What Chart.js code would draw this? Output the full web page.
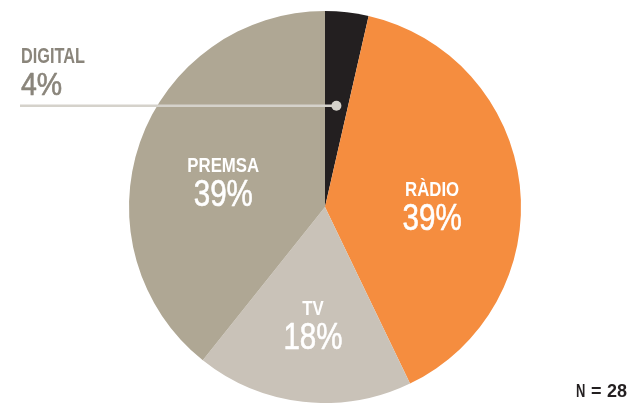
<!DOCTYPE html>
<html lang="ca">
<head>
  <meta charset="UTF-8">
  <title>Mitjans</title>
  <script src="https://cdn.jsdelivr.net/npm/chart.js"></script>
  <style>
    html, body { margin: 0; padding: 0; background: #fff; overflow: hidden; }
    #wrap { width: 634px; height: 403px; }
  </style>
</head>
<body>
<div id="wrap"><canvas id="pie" width="634" height="403"></canvas></div>
<script>
// data (N = 28 answers)
const labels = ['DIGITAL', 'RÀDIO', 'TV', 'PREMSA'];
const counts = [1, 11, 5, 11];
const pctText = ['4%', '39%', '18%', '39%'];
const sampleSize = 28;

const colors = ['#231f20', '#f58d3f', '#c9c2b8', '#afa794'];
const FONT = "'Liberation Sans', Arial, sans-serif";

// draw horizontally squeezed text (fake condensed face); heavy adds a thin stroke
function narrowText(ctx, text, x, y, font, align, squeeze, heavy) {
  ctx.save();
  ctx.font = font;
  ctx.textAlign = align;
  ctx.textBaseline = 'alphabetic';
  ctx.translate(x, y);
  ctx.scale(squeeze, 1);
  ctx.fillText(text, 0, 0);
  if (heavy) {
    ctx.strokeStyle = ctx.fillStyle;
    ctx.lineWidth = heavy;
    ctx.lineJoin = 'round';
    ctx.strokeText(text, 0, 0);
  }
  ctx.restore();
}

const sliceLabels = {
  id: 'sliceLabels',
  afterDatasetsDraw(chart) {
    const ctx = chart.ctx;
    const arcs = chart.getDatasetMeta(0).data;
    ctx.save();
    arcs.forEach((arc, i) => {
      const mid = (arc.startAngle + arc.endAngle) / 2;
      if (i === 0) {
        // callout for the small slice
        const r = arc.outerRadius * 0.52;
        const px = arc.x + Math.cos(mid) * r;
        const py = arc.y + Math.sin(mid) * r;
        ctx.strokeStyle = '#d5d2cb';
        ctx.lineWidth = 2.5;
        ctx.beginPath();
        ctx.moveTo(20, py);
        ctx.lineTo(px, py);
        ctx.stroke();
        ctx.fillStyle = '#d5d2cb';
        ctx.beginPath();
        ctx.arc(px, py, 5, 0, Math.PI * 2);
        ctx.fill();
        ctx.fillStyle = '#8a857b';
        narrowText(ctx, labels[i], 21, 63, 'bold 22px ' + FONT, 'left', 0.74);
        narrowText(ctx, pctText[i], 21, 95, '31px ' + FONT, 'left', 0.92, 0.6);
        return;
      }
      const r = arc.outerRadius * 0.55;
      const x = arc.x + Math.cos(mid) * r;
      const y = arc.y + Math.sin(mid) * r;
      ctx.fillStyle = '#ffffff';
      narrowText(ctx, labels[i], x, y + 1, 'bold 21px ' + FONT, 'center', 0.8);
      narrowText(ctx, pctText[i], x, y + 35, '36px ' + FONT, 'center', 0.82, 0.6);
    });
    // sample size note, bottom right
    ctx.fillStyle = '#231f20';
    const f = 'bold 18px ' + FONT;
    narrowText(ctx, 'N', 576, 397, f, 'left', 0.72);
    narrowText(ctx, '=', 591, 397, f, 'left', 1.0);
    narrowText(ctx, String(sampleSize), 607, 397, f, 'left', 1.0);
    ctx.restore();
  }
};

new Chart(document.getElementById('pie'), {
  type: 'pie',
  data: {
    labels: labels,
    datasets: [{
      data: counts,
      backgroundColor: colors,
      borderWidth: 0
    }]
  },
  options: {
    responsive: false,
    devicePixelRatio: 1,
    animation: false,
    layout: { padding: { left: 129, right: 113, top: 11, bottom: 0 } },
    plugins: {
      legend: { display: false },
      tooltip: { enabled: false }
    }
  },
  plugins: [sliceLabels]
});
</script>
</body>
</html>
